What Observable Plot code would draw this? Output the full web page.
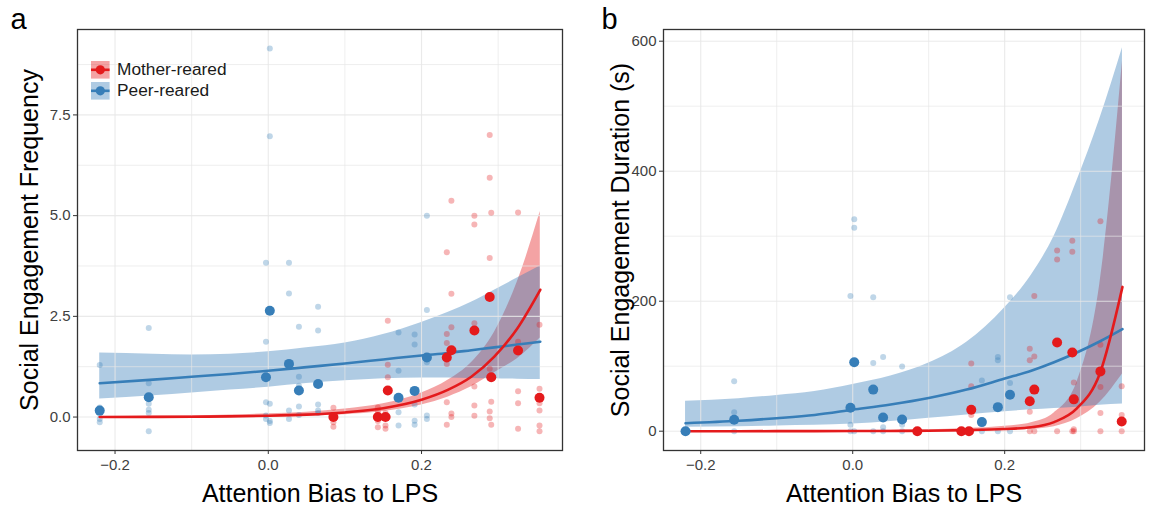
<!DOCTYPE html>
<html>
<head>
<meta charset="utf-8">
<script src="https://cdn.jsdelivr.net/npm/d3@7"></script>
<script src="https://cdn.jsdelivr.net/npm/@observablehq/plot@0.6"></script>
<style>
  html, body { margin: 0; padding: 0; background: #fff; }
  #fig { position: relative; width: 1149px; height: 508px; font-family: "Liberation Sans", Arial, sans-serif; }
  .panel { position: absolute; top: 0; }
  #legend { position: absolute; left: 0; top: 0; pointer-events: none; }
</style>
</head>
<body>
<div id="fig">
  <div id="pa" class="panel" style="left:0px"></div>
  <div id="pb" class="panel" style="left:575px"></div>
  <svg id="legend" width="300" height="120"></svg>
</div>
<script>
// ---------- data ----------
const xTicks = [-0.2, 0, 0.2];
const xMinor = [-0.1, 0.1, 0.3];
const freqTicks = [0, 2.5, 5, 7.5];
const freqMinor = [1.25, 3.75, 6.25, 8.75];
const durTicks = [0, 200, 400, 600];
const durMinor = [100, 300, 500];

// fitted curves (values read at these x positions)
const fitX = [-0.22, -0.15, -0.1, -0.05, 0, 0.05, 0.1, 0.15, 0.2, 0.235, 0.265, 0.295, 0.325, 0.355];
const motherFreqFit = [0.002, 0.005, 0.009, 0.017, 0.032, 0.06, 0.115, 0.22, 0.43, 0.68, 1.0, 1.5, 2.2, 3.16];
const motherFreqLo  = [0, 0.001, 0.002, 0.005, 0.01, 0.025, 0.06, 0.14, 0.3, 0.5, 0.75, 1.1, 1.45, 1.96];
const motherFreqHi  = [0.01, 0.02, 0.03, 0.05, 0.08, 0.12, 0.2, 0.33, 0.6, 0.92, 1.35, 2.1, 3.35, 5.1];
const peerFreqFit = [0.84, 0.93, 1.0, 1.07, 1.15, 1.24, 1.33, 1.43, 1.53, 1.59, 1.66, 1.73, 1.80, 1.87];
const peerFreqLo  = [0.45, 0.53, 0.6, 0.67, 0.74, 0.83, 0.9, 0.95, 0.97, 0.97, 0.96, 0.95, 0.94, 0.93];
const peerFreqHi  = [1.59, 1.56, 1.54, 1.56, 1.62, 1.72, 1.84, 2.05, 2.35, 2.6, 2.85, 3.15, 3.45, 3.75];
const motherDurFit = [0, 0, 0.05, 0.1, 0.2, 0.4, 0.8, 1.6, 3.3, 6, 14, 35, 88, 222];
const motherDurLo  = [0, 0, 0, 0.02, 0.05, 0.1, 0.25, 0.6, 1.5, 3, 7, 19, 44, 88];
const motherDurHi  = [0.1, 0.2, 0.3, 0.5, 0.8, 1.3, 2.2, 4, 7.5, 13, 28, 75, 225, 569];
const peerDurFit = [12.3, 16, 20, 25, 33, 41, 51, 64, 81, 93, 106, 121, 138, 157];
const peerDurLo  = [6, 7, 8, 9, 11, 15, 20, 25, 30, 33, 35, 37, 40, 42];
const peerDurHi  = [46, 50, 55, 61, 72, 85, 105, 137, 190, 240, 300, 385, 480, 590];

// subjects: attention bias, subject means, individual observations
const peerX = [-0.22, -0.156, -0.003, 0.002, 0.027, 0.040, 0.065, 0.170, 0.191, 0.207];
const peerFreqMean = [0.16, 0.49, 0.99, 2.64, 1.32, 0.66, 0.82, 0.48, 0.65, 1.48];
const peerDurMean = [0, 17.5, 36, 106, 64, 21, 18, 14, 37, 56];
const peerFreqObs = [
  [1.29, 0.24, 0.08, -0.05, -0.13],
  [2.21, 0.84, 0.33, 0.18, 0.1, -0.35],
  [3.83, 1.87, 0.37, 0.04, -0.05],
  [9.15, 6.97, 0.33, -0.1, -0.15],
  [3.83, 3.07, 0.16, -0.05],
  [2.24, 1.0, 0.78, 0.26, 0.05],
  [2.74, 2.15, 0.31, 0.16, 0.1],
  [2.1, 1.15, 0.12, -0.21],
  [2.05, 1.8, 0.31, -0.09, -0.19],
  [5.0, 2.66, 1.36, 0.04, -0.05]
];
const peerDurObs = [
  [0, 0, 0],
  [77, 29, 0],
  [208, 10, 0],
  [326, 313, 0],
  [206, 105, 0],
  [114, 6, 0],
  [99.5, 10, 0],
  [78, 0],
  [114, 109, 0],
  [206, 74, 0]
];

const motherX = [0.085, 0.143, 0.153, 0.156, 0.233, 0.239, 0.269, 0.289, 0.291, 0.326, 0.354];
const motherFreqMean = [0, 0, 0, 0.66, 1.48, 1.66, 2.15, 2.98, 0.99, 1.65, 0.48];
const motherDurMean = [0, 0, 0, 33, 46, 64, 136.5, 121, 49, 92, 15];
const motherFreqObs = [
  [0.23, 0.05, -0.13, -0.24],
  [0.24, 0.14, -0.1, -0.25],
  [0.1, -0.21, -0.29],
  [2.39, 1.3, 0.99, 0.0],
  [4.09, 2.06, 1.84, 1.32, 0.37, -0.19],
  [5.37, 3.06, 2.23, 0.09, 0.0],
  [5.0, 4.78, 2.33, 0.76, 0.29, 0.03],
  [7.0, 5.94, 3.95, 1.2, 0.14, -0.03],
  [5.07, 0.38, -0.19],
  [5.08, 1.87, 0.64, 0.34, -0.29],
  [2.29, 0.7, 0.34, 0.16, -0.21, -0.35]
];
const motherDurObs = [
  [0, 0], [0, 0], [0, 0],
  [104, 69, 25, 0],
  [127, 109, 30, 0],
  [208, 115, 0],
  [278, 264, 0],
  [293, 276, 0],
  [75, 3, 0],
  [323, 133, 68, 28, 0],
  [69, 25, 0]
];

const groups = ["Mother-reared", "Peer-reared"];
const RED = "#e41a1c", BLUE = "#377eb8";
const xDomain = [-0.249, 0.384];

// ---------- helpers ----------
const fitRows = (fit, lo, hi) => fitX.map((x, i) => ({x, y: fit[i], lo: lo[i], hi: hi[i]}));
const obsRows = (xs, obs) => xs.flatMap((x, i) => obs[i].map(v => ({x, y: v})));
const meanRows = (xs, m) => xs.map((x, i) => ({x, y: m[i]}));

function panel(o) {
  const mF = fitRows(o.mFit, o.mLo, o.mHi);
  const pF = fitRows(o.pFit, o.pLo, o.pHi);
  return Plot.plot({
    width: o.width, height: 508,
    marginLeft: o.marginLeft, marginRight: o.marginRight, marginTop: 29, marginBottom: 58,
    style: {fontFamily: '"Liberation Sans", Arial, sans-serif', fontSize: "15px", background: "white"},
    x: {domain: xDomain},
    y: {domain: o.yDomain},
    marks: [
      Plot.areaY(mF, {x: "x", y1: "lo", y2: "hi", fill: RED, fillOpacity: 0.4, curve: "monotone-x"}),
      Plot.areaY(pF, {x: "x", y1: "lo", y2: "hi", fill: BLUE, fillOpacity: 0.4, curve: "monotone-x"}),
      Plot.gridX(xMinor, {stroke: "#e6e6e6", strokeOpacity: 0.85, strokeWidth: 0.8}),
      Plot.gridY(o.yMinor, {stroke: "#e6e6e6", strokeOpacity: 0.85, strokeWidth: 0.8}),
      Plot.gridX(xTicks, {stroke: "#e6e6e6", strokeOpacity: 0.85, strokeWidth: 1.1}),
      Plot.gridY(o.yTicks, {stroke: "#e6e6e6", strokeOpacity: 0.85, strokeWidth: 1.1}),
      Plot.dot(obsRows(motherX, o.mObs), {x: "x", y: "y", r: 3, fill: RED, fillOpacity: 0.32, stroke: "none"}),
      Plot.dot(obsRows(peerX, o.pObs), {x: "x", y: "y", r: 3, fill: BLUE, fillOpacity: 0.32, stroke: "none"}),
      Plot.line(pF, {x: "x", y: "y", stroke: BLUE, strokeWidth: 2.6, curve: "monotone-x"}),
      Plot.line(mF, {x: "x", y: "y", stroke: RED, strokeWidth: 2.6, curve: "monotone-x"}),
      Plot.dot(meanRows(peerX, o.pMean), {x: "x", y: "y", r: 5, fill: BLUE, stroke: "none"}),
      Plot.dot(meanRows(motherX, o.mMean), {x: "x", y: "y", r: 5, fill: RED, stroke: "none"}),
      Plot.frame({stroke: "#333333", strokeWidth: 1.3}),
      Plot.axisX(xTicks, {tickSize: 4, tickPadding: 5, tickFormat: d3.format(".1f"), label: null, stroke: "#333", fill: "#404040", fontSize: 15}),
      Plot.axisY(o.yTicks, {tickSize: 4, tickPadding: 3, tickFormat: o.yFmt, label: null, stroke: "#333", fill: "#404040", fontSize: 15}),
      Plot.text([o.xLabel], {frameAnchor: "bottom", textAnchor: "middle", lineAnchor: "middle", dy: 43, fontSize: 25, fill: "black"}),
      Plot.text([o.yLabel], {frameAnchor: "left", textAnchor: "middle", lineAnchor: "middle", rotate: -90, dx: o.yLabelDx, fontSize: 25, fill: "black"}),
      Plot.text([o.tag], {frameAnchor: "top-left", textAnchor: "start", lineAnchor: "bottom", dx: o.tagDx, dy: -1, fontSize: 29, fill: "black"})
    ]
  });
}

document.getElementById("pa").appendChild(panel({
  width: 575, marginLeft: 77, marginRight: 13,
  yDomain: [-0.83, 9.62], yTicks: freqTicks, yMinor: freqMinor, yFmt: d3.format(".1f"),
  mFit: motherFreqFit, mLo: motherFreqLo, mHi: motherFreqHi,
  pFit: peerFreqFit, pLo: peerFreqLo, pHi: peerFreqHi,
  mObs: motherFreqObs, pObs: peerFreqObs, mMean: motherFreqMean, pMean: peerFreqMean,
  xLabel: "Attention Bias to LPS", yLabel: "Social Engagement Frequency", yLabelDx: -48,
  tag: "a", tagDx: -67
}));

document.getElementById("pb").appendChild(panel({
  width: 574, marginLeft: 88, marginRight: 5,
  yDomain: [-29.7, 618], yTicks: durTicks, yMinor: durMinor, yFmt: d3.format("d"),
  mFit: motherDurFit, mLo: motherDurLo, mHi: motherDurHi,
  pFit: peerDurFit, pLo: peerDurLo, pHi: peerDurHi,
  mObs: motherDurObs, pObs: peerDurObs, mMean: motherDurMean, pMean: peerDurMean,
  xLabel: "Attention Bias to LPS", yLabel: "Social Engagement Duration (s)", yLabelDx: -43,
  tag: "b", tagDx: -62
}));

// ---------- legend (inside panel a, top-left) ----------
const lg = d3.select("#legend");
const legendColors = [RED, BLUE];
groups.forEach((g, i) => {
  const y0 = 61 + i * 21;
  const row = lg.append("g").attr("transform", `translate(91,${y0})`);
  row.append("rect").attr("width", 18.6).attr("height", 17.6).attr("fill", legendColors[i]).attr("fill-opacity", 0.4);
  row.append("line").attr("x1", 0).attr("x2", 18.6).attr("y1", 8.8).attr("y2", 8.8)
     .attr("stroke", legendColors[i]).attr("stroke-width", 2.6);
  row.append("circle").attr("cx", 9.3).attr("cy", 8.8).attr("r", 4.6).attr("fill", legendColors[i]);
  row.append("text").attr("x", 26).attr("y", 13.8).attr("font-size", 17.3)
     .attr("font-family", '"Liberation Sans", Arial, sans-serif').attr("fill", "#1a1a1a").text(g);
});
</script>
</body>
</html>
